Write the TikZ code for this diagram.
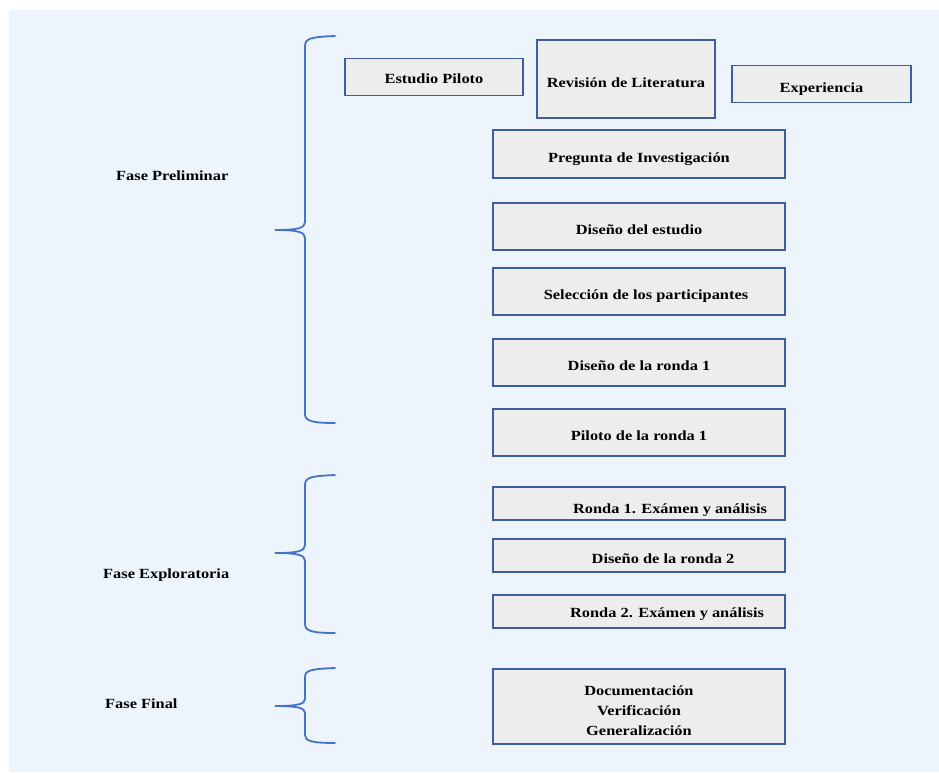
\documentclass[tikz,border=0pt]{standalone}
\usepackage{fontspec}
\setmainfont{Liberation Serif}[FakeStretch=1.17]
\begin{document}
\begin{tikzpicture}[x=1pt,y=-1pt,
  box/.style={draw=boxline, fill=boxfill, line width=1.6pt, inner sep=0pt,
    font=\fontsize{14}{20}\selectfont\bfseries, align=center,
    text height=17pt, text depth=1pt},
  phase/.style={anchor=west, inner sep=0pt, font=\fontsize{14}{20}\selectfont\bfseries},
  brace/.style={draw=bracecol, line width=1.8pt, line cap=round}]
\definecolor{bg}{HTML}{EEF4FC}
\definecolor{boxfill}{HTML}{EDEDED}
\definecolor{boxline}{HTML}{3D5E9E}
\definecolor{bracecol}{HTML}{4472C4}
\useasboundingbox (0,0) rectangle (939,772);
\fill[bg] (9,10) rectangle (939,772);

% preliminary phase
\node[box, minimum width=178pt, minimum height=37pt, text height=13pt] (piloto) at (434,77) {Estudio Piloto};
\node[box, minimum width=178pt, minimum height=78pt] (lit) at (626,79) {Revisión de Literatura};
\node[box, minimum width=179pt, minimum height=37pt] (exp) at (821.5,84) {Experiencia};
\node[box, minimum width=292pt, minimum height=48pt] (preg) at (639,154) {Pregunta de Investigación};
\node[box, minimum width=292pt, minimum height=47pt] (dis) at (639,226.5) {Diseño del estudio};
\node[box, minimum width=292pt, minimum height=47pt] (sel) at (639,291.5) {\hspace*{14pt}Selección de los participantes};
\node[box, minimum width=292pt, minimum height=47pt] (dr1) at (639,362.5) {Diseño de la ronda 1};
\node[box, minimum width=292pt, minimum height=47pt] (pr1) at (639,432.5) {Piloto de la ronda 1};

% exploratory phase
\node[box, minimum width=292pt, minimum height=33pt, text height=20pt] (r1) at (639,503.5) {\hspace*{62pt}Ronda 1. Exámen y análisis};
\node[box, minimum width=292pt, minimum height=33pt] (dr2) at (639,555.5) {\hspace*{48pt}Diseño de la ronda 2};
\node[box, minimum width=292pt, minimum height=33pt, text height=12pt] (r2) at (639,611.5) {\hspace*{56pt}Ronda 2. Exámen y análisis};

% final phase (three lines; baseline is the last line)
\node[box, minimum width=292pt, minimum height=75pt, text height=57pt, text depth=0pt] (fin) at (639,706.5) {Documentación\\Verificación\\Generalización};

% phase labels
\node[phase] (fp) at (116,176) {Fase Preliminar};
\node[phase] (fe) at (103,575) {Fase Exploratoria};
\node[phase] (ff) at (105,704) {Fase Final};

% braces
\draw[brace] (335,36) .. controls (312,37) and (305,38) .. (305,46) -- (305,222)
  .. controls (305,228) and (298,230) .. (275,230)
  .. controls (298,230) and (305,232) .. (305,238) -- (305,414)
  .. controls (305,421) and (312,423) .. (335,423);
\draw[brace] (335,475) .. controls (312,476) and (305,477) .. (305,485) -- (305,545)
  .. controls (305,551) and (298,553) .. (275,553)
  .. controls (298,553) and (305,555) .. (305,561) -- (305,624)
  .. controls (305,631) and (312,633) .. (335,633);
\draw[brace] (335,668) .. controls (312,669) and (305,670) .. (305,677) -- (305,699)
  .. controls (305,704) and (298,706) .. (275,706)
  .. controls (298,706) and (305,708) .. (305,713) -- (305,735)
  .. controls (305,741) and (312,743) .. (335,743);
\end{tikzpicture}
\end{document}
